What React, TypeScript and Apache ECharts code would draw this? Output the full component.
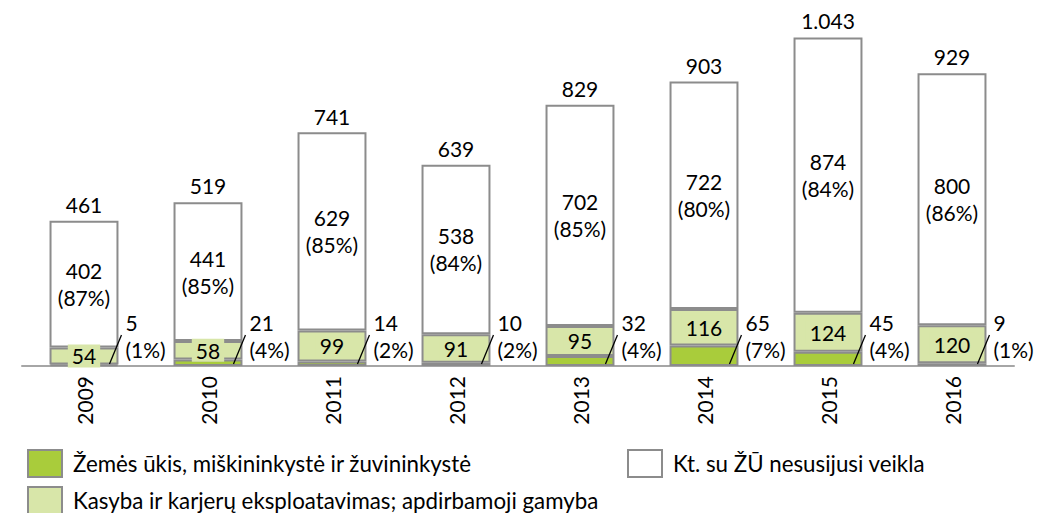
import React, { useEffect, useRef } from "react";
import * as echarts from "echarts";

const years = ["2009", "2010", "2011", "2012", "2013", "2014", "2015", "2016"];
const agriculture = [5, 21, 14, 10, 32, 65, 45, 9];
const manufacturing = [54, 58, 99, 91, 95, 116, 124, 120];
const other = [402, 441, 629, 538, 702, 722, 874, 800];
const totals = [461, 519, 741, 639, 829, 903, 1043, 929];

const seriesNames = [
  "Žemės ūkis, miškininkystė ir žuvininkystė",
  "Kasyba ir karjerų eksploatavimas; apdirbamoji gamyba",
  "Kt. su ŽŪ nesusijusi veikla",
];

const FONT = "Lato, 'Noto Sans', sans-serif";
const FS = 21;
const BAR_RATIO = 0.556;
const BORDER = "#8c8c8c";
const GREEN = "#a9cc3b";
const LIGHT = "#d8e6a9";

const pct = (v: number, t: number) => Math.round((v / t) * 100);
const fmt = (n: number) =>
  n >= 1000 ? `${Math.floor(n / 1000)}.${String(n % 1000).padStart(3, "0")}` : String(n);

export default function App() {
  const ref = useRef<HTMLDivElement>(null);
  useEffect(() => {
    if (!ref.current) return;
    const chart = echarts.init(ref.current, undefined, { renderer: "svg" });
    const legendBase = {
      padding: 0,
      itemWidth: 34,
      itemHeight: 27,
      icon: "rect",
      selectedMode: false,
      itemStyle: { borderColor: BORDER, borderWidth: 2 },
      textStyle: { fontFamily: FONT, fontSize: 22.3, color: "#000", padding: [0, 0, 0, 6] },
    };
    chart.setOption({
      animation: false,
      grid: { left: 22, right: 39, top: 10, bottom: 147, containLabel: false },
      legend: [
        { ...legendBase, data: [seriesNames[0]], left: 27, top: 449 },
        { ...legendBase, data: [seriesNames[1]], left: 27, top: 486 },
        { ...legendBase, data: [seriesNames[2]], left: 627, top: 449 },
      ],
      xAxis: {
        type: "category",
        data: years,
        axisLine: { lineStyle: { color: "#a6a6a6", width: 2 } },
        axisTick: { show: false },
        axisLabel: { rotate: 90, margin: 10, fontFamily: FONT, fontSize: FS, color: "#000" },
      },
      yAxis: { type: "value", min: 0, max: 1130, show: false, splitLine: { show: false } },
      series: [
        {
          name: seriesNames[0],
          type: "bar",
          stack: "s",
          barWidth: `${BAR_RATIO * 100}%`,
          data: agriculture,
          itemStyle: { color: GREEN, borderColor: BORDER, borderWidth: 2 },
        },
        {
          name: seriesNames[1],
          type: "bar",
          stack: "s",
          barWidth: `${BAR_RATIO * 100}%`,
          data: manufacturing,
          itemStyle: { color: LIGHT, borderColor: BORDER, borderWidth: 2 },
          label: {
            show: true,
            position: "inside",
            fontFamily: FONT,
            fontSize: FS,
            color: "#000",
            backgroundColor: LIGHT,
            padding: [1, 4, 1, 4],
          },
        },
        {
          name: seriesNames[2],
          type: "bar",
          stack: "s",
          barWidth: `${BAR_RATIO * 100}%`,
          data: other,
          itemStyle: { color: "#fff", borderColor: BORDER, borderWidth: 2 },
          label: {
            show: true,
            position: "inside",
            fontFamily: FONT,
            fontSize: FS,
            lineHeight: 27,
            color: "#000",
            formatter: (p: any) => `${p.value}\n(${pct(p.value, totals[p.dataIndex])}%)`,
          },
        },
        {
          type: "custom",
          silent: true,
          z: 10,
          data: agriculture.map((v, i) => [i, v, pct(v, totals[i])]),
          renderItem: (params: any, api: any) => {
            const i = api.value(0);
            const base = api.coord([i, 0]);
            const band = api.size([1, 0])[0];
            const edge = base[0] + (band * BAR_RATIO) / 2;
            return {
              type: "group",
              children: [
                {
                  type: "line",
                  shape: { x1: edge - 9, y1: base[1] - 2, x2: edge + 3, y2: base[1] - 31 },
                  style: { stroke: "#000", lineWidth: 1.3 },
                },
                {
                  type: "text",
                  x: edge + 7,
                  y: base[1] - 57,
                  style: {
                    text: `${api.value(1)}\n(${api.value(2)}%)`,
                    font: `${FS}px ${FONT}`,
                    lineHeight: 27,
                    fill: "#000",
                    textAlign: "left",
                    textVerticalAlign: "top",
                  },
                },
              ],
            };
          },
        },
        {
          type: "custom",
          silent: true,
          z: 10,
          data: totals.map((v, i) => [i, v]),
          renderItem: (params: any, api: any) => {
            const p = api.coord([api.value(0), api.value(1)]);
            return {
              type: "text",
              x: p[0],
              y: p[1] - 6,
              style: {
                text: fmt(api.value(1)),
                font: `${FS}px ${FONT}`,
                fill: "#000",
                textAlign: "center",
                textVerticalAlign: "bottom",
              },
            };
          },
        },
      ],
    });
    return () => chart.dispose();
  }, []);
  return (
    <div
      ref={ref}
      style={{ position: "fixed", left: 0, top: 0, width: 1053, height: 513, background: "#fff" }}
    />
  );
}
